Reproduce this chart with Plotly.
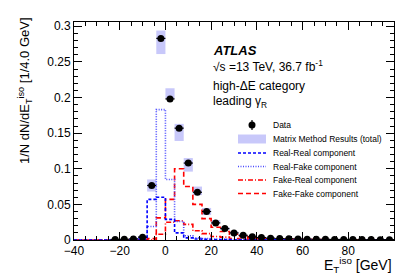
import plotly.graph_objects as go

# ---------------- data ----------------
bin_edges = list(range(-40, 101, 4))          # 35 bins of 4 GeV

x_tick_vals = [-40, -20, 0, 20, 40, 60, 80]
x_minor_vals = list(range(-40, 101, 5))

data_x = list(range(-22, 99, 4))
data_y = [0.0008, 0.001, 0.0015, 0.004, 0.0765, 0.283, 0.198, 0.157, 0.108, 0.067,
          0.040, 0.024, 0.016, 0.010, 0.0066, 0.0045, 0.0035, 0.0025, 0.002, 0.0018,
          0.0015, 0.0012, 0.001, 0.001, 0.0008, 0.0008, 0.0007, 0.0006, 0.0006, 0.0005, 0.0005]
data_err = [0.0003, 0.0003, 0.0004, 0.0006, 0.002, 0.003, 0.0025, 0.0022, 0.0018, 0.0015,
            0.0012, 0.001, 0.0008, 0.0006, 0.0005, 0.0004, 0.0004, 0.0003, 0.0003, 0.0003,
            0.0003, 0.0003, 0.0003, 0.0003, 0.0002, 0.0002, 0.0002, 0.0002, 0.0002, 0.0002, 0.0002]

mm_val = [0.0008, 0.001, 0.0015, 0.004, 0.0765, 0.2775, 0.2055, 0.151, 0.1055, 0.069,
          0.040, 0.025, 0.016, 0.010, 0.0066, 0.0045, 0.0035, 0.0025, 0.002, 0.0018,
          0.0015, 0.0012, 0.001, 0.001, 0.0008, 0.0008, 0.0007, 0.0006, 0.0006, 0.0005, 0.0005]
mm_err = [0.0004, 0.0004, 0.0005, 0.001, 0.0085, 0.0165, 0.0075, 0.012, 0.0095, 0.006,
          0.005, 0.003, 0.002, 0.0015, 0.001, 0.0008, 0.0007, 0.0006, 0.0005, 0.0005,
          0.0005, 0.0004, 0.0004, 0.0004, 0.0004, 0.0004, 0.0004, 0.0004, 0.0004, 0.0004, 0.0004]

# components per bin (centres -38 ... 98)
real_real = [0, 0, 0, 0, 0, 0, 0, 0.001, 0.057, 0.060, 0.029, 0.010, 0.003, 0.0015, 0.001,
             0.0007, 0.0005, 0.0004, 0.0003, 0.0003, 0.0002, 0.0002, 0.0002, 0.0001, 0.0001,
             0.0001, 0.0001, 0.0001, 0.0001, 0.0001, 0.0001, 0.0001, 0.0001, 0.0001, 0.0001]
real_fake = [0, 0, 0, 0, 0, 0, 0, 0.004, 0.019, 0.183, 0.085, 0.026, 0.006, 0.003, 0.002,
             0.001, 0.001, 0.0007, 0.0005, 0.0004, 0.0003, 0.0003, 0.0002, 0.0002, 0.0002,
             0.0001, 0.0001, 0.0001, 0.0001, 0.0001, 0.0001, 0.0001, 0.0001, 0.0001, 0.0001]
fake_real = [0, 0, 0, 0, 0, 0, 0, 0, 0.0, 0.008, 0.025, 0.027, 0.022, 0.013, 0.009,
             0.005, 0.004, 0.002, 0.0015, 0.001, 0.001, 0.0007, 0.0006, 0.0005, 0.0004,
             0.0004, 0.0003, 0.0003, 0.0003, 0.0002, 0.0002, 0.0002, 0.0002, 0.0002, 0.0002]
fake_fake = [0, 0, 0, 0, 0, 0, 0, 0, 0.002, 0.031, 0.057, 0.100, 0.075, 0.050, 0.030,
             0.018, 0.012, 0.008, 0.005, 0.003, 0.002, 0.0015, 0.001, 0.001, 0.0008,
             0.0007, 0.0006, 0.0005, 0.0005, 0.0004, 0.0004, 0.0003, 0.0003, 0.0003, 0.0003]

FONT = "Liberation Sans, Arial, Helvetica, sans-serif"

fig = go.Figure()

# Matrix-method total (uncertainty boxes)
fig.add_trace(go.Bar(
    x=data_x,
    y=[2 * e for e in mm_err],
    base=[v - e for v, e in zip(mm_val, mm_err)],
    width=4,
    marker=dict(color="rgb(200,200,250)", line=dict(width=0)),
    showlegend=False,
))


def step(vals, color, dash, width=1.6):
    fig.add_trace(go.Scatter(
        x=bin_edges,
        y=list(vals) + [vals[-1]],
        mode="lines",
        line=dict(shape="hv", color=color, dash=dash, width=width),
        showlegend=False,
    ))


step(fake_fake, "#ff0000", "5px,3px")
step(fake_real, "#ff0000", "5px,2px,1px,2px")
step(real_fake, "#4a4aff", "1px,1.5px")
step(real_real, "#0000ff", "3px,2px")

# data
fig.add_trace(go.Scatter(
    x=data_x, y=data_y, mode="markers",
    marker=dict(color="black", size=7),
    error_x=dict(type="constant", value=2, color="black", thickness=1.2, width=0),
    error_y=dict(type="data", array=data_err, color="black", thickness=1.2, width=0),
    showlegend=False,
))

# ---------- helpers for pixel -> paper ----------
L, R, T, B = 66, 386, 14, 232


def px(x):
    return (x - L) / (R - L)


def py(y):
    return (B - y) / (B - T)


ann = []
shapes = []

# y-axis title
ann.append(dict(text="1/N dN/dE<sub>T</sub><sup>iso</sup> [1/4.0 GeV]", textangle=-90,
                x=px(17), y=py(83), xref="paper", yref="paper", xanchor="center",
                yanchor="middle", showarrow=False, font=dict(size=13, family=FONT, color="black")))
# x-axis title
ann.append(dict(text="E<sub>T</sub><sup>iso</sup> [GeV]", x=1.0, y=py(257), xref="paper",
                yref="paper", xanchor="right", yanchor="middle", showarrow=False,
                font=dict(size=14, family=FONT, color="black")))

# ATLAS labels
ann.append(dict(text="<b><i>ATLAS</i></b>", x=px(203), y=py(42), xref="paper", yref="paper",
                xanchor="left", yanchor="middle", showarrow=False,
                font=dict(size=13, family=FONT, color="black")))
ann.append(dict(text="√s =13 TeV, 36.7 fb<sup>-1</sup>", x=px(203), y=py(58), xref="paper",
                yref="paper", xanchor="left", yanchor="middle", showarrow=False,
                font=dict(size=12, family=FONT, color="black")))
ann.append(dict(text="high-ΔE category", x=px(203), y=py(78), xref="paper", yref="paper",
                xanchor="left", yanchor="middle", showarrow=False,
                font=dict(size=12, family=FONT, color="black")))
ann.append(dict(text="leading γ<sub>R</sub>", x=px(203), y=py(94), xref="paper", yref="paper",
                xanchor="left", yanchor="middle", showarrow=False,
                font=dict(size=12, family=FONT, color="black")))

# manual legend
leg_items = ["Data", "Matrix Method Results (total)", "Real-Real component",
             "Real-Fake component", "Fake-Real component", "Fake-Fake component"]
leg_y = [117, 131, 145, 158.5, 172, 185.5]
for txt, yy in zip(leg_items, leg_y):
    ann.append(dict(text=txt, x=px(263), y=py(yy), xref="paper", yref="paper",
                    xanchor="left", yanchor="middle", showarrow=False,
                    font=dict(size=8.5, family=FONT, color="black")))

# Data symbol
shapes.append(dict(type="circle", xref="paper", yref="paper",
                   x0=px(240.5), x1=px(247.5), y0=py(120.5), y1=py(113.5),
                   fillcolor="black", line=dict(color="black", width=0)))
shapes.append(dict(type="line", xref="paper", yref="paper", x0=px(244), x1=px(244),
                   y0=py(122), y1=py(112), line=dict(color="black", width=1.2)))
# MM box
shapes.append(dict(type="rect", xref="paper", yref="paper", x0=px(230), x1=px(258),
                   y0=py(135.5), y1=py(126.5), fillcolor="rgb(200,200,250)",
                   line=dict(width=0)))
line_styles = [("#0000ff", "3px,2px"), ("#4a4aff", "1px,1.5px"),
               ("#ff0000", "5px,2px,1px,2px"), ("#ff0000", "5px,3px")]
for (col, dsh), yy in zip(line_styles, leg_y[2:]):
    shapes.append(dict(type="line", xref="paper", yref="paper", x0=px(230), x1=px(258),
                       y0=py(yy), y1=py(yy), line=dict(color=col, dash=dsh, width=1.6)))

axis_common = dict(
    ticks="inside", ticklen=8, tickwidth=1, tickcolor="black",
    showline=True, linecolor="black", linewidth=1, mirror="allticks",
    showgrid=False, zeroline=False,
    tickfont=dict(size=12, family=FONT, color="black"),
)

fig.update_layout(
    width=407, height=276,
    margin=dict(l=L, r=407 - R, t=T, b=276 - B),
    plot_bgcolor="white", paper_bgcolor="white",
    showlegend=False,
    barmode="overlay",
    xaxis=dict(range=[-40, 100], tickmode="array", tickvals=x_tick_vals,
               minor=dict(tickmode="array", tickvals=x_minor_vals, ticklen=4,
                          ticks="inside", tickcolor="black"),
               **axis_common),
    yaxis=dict(range=[0, 0.306], tickmode="linear", tick0=0, dtick=0.05,
               minor=dict(dtick=0.01, ticklen=4, ticks="inside", tickcolor="black"),
               **axis_common),
    annotations=ann,
    shapes=shapes,
)

fig.write_html("out.html")
